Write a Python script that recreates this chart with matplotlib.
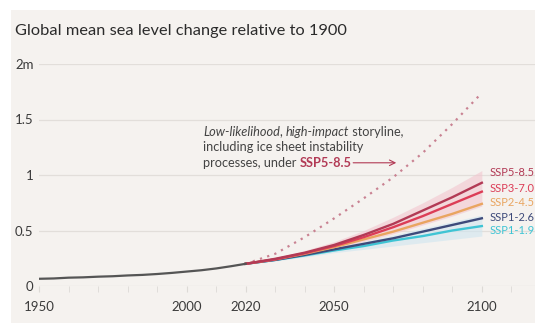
import numpy as np
import matplotlib
matplotlib.use("Agg")
import matplotlib.pyplot as plt
from matplotlib.patches import Rectangle

plt.rcParams['font.family'] = ['Lato', 'DejaVu Sans']

# observed record
hist_years = [1950, 1955, 1960, 1965, 1970, 1975, 1980, 1985, 1990, 1995, 2000, 2005, 2010, 2015, 2020]
hist_vals = [0.065, 0.068, 0.075, 0.078, 0.084, 0.088, 0.095, 0.100, 0.108, 0.118, 0.130, 0.142, 0.158, 0.178, 0.200]

# projections
proj_years = [2020, 2030, 2040, 2050, 2060, 2070, 2080, 2090, 2100]
scenarios = ["SSP5-8.5", "SSP3-7.0", "SSP2-4.5", "SSP1-2.6", "SSP1-1.9"]
ssp585 = [0.20, 0.245, 0.30, 0.37, 0.46, 0.56, 0.68, 0.80, 0.93]
ssp370 = [0.20, 0.24, 0.295, 0.36, 0.44, 0.53, 0.63, 0.74, 0.85]
ssp245 = [0.20, 0.24, 0.29, 0.35, 0.42, 0.49, 0.57, 0.65, 0.74]
ssp126 = [0.20, 0.235, 0.28, 0.33, 0.38, 0.43, 0.49, 0.55, 0.61]
ssp119 = [0.20, 0.235, 0.275, 0.32, 0.36, 0.41, 0.45, 0.50, 0.54]
ssp585_lo = [0.20, 0.235, 0.28, 0.33, 0.40, 0.47, 0.55, 0.63, 0.72]
ssp585_hi = [0.20, 0.255, 0.32, 0.40, 0.50, 0.62, 0.75, 0.89, 1.04]
ssp119_lo = [0.20, 0.225, 0.26, 0.30, 0.33, 0.36, 0.39, 0.42, 0.45]
ssp119_hi = [0.20, 0.245, 0.29, 0.34, 0.40, 0.46, 0.52, 0.58, 0.64]
storyline = [0.20, 0.29, 0.44, 0.61, 0.79, 0.98, 1.20, 1.46, 1.74]

colors = {"SSP5-8.5": "#b23a55", "SSP3-7.0": "#dc3d57", "SSP2-4.5": "#e9a560",
          "SSP1-2.6": "#3d4a7a", "SSP1-1.9": "#3fc4d4"}
label_y = [1.02, 0.88, 0.75, 0.62, 0.50]

bg = "#f5f2ef"
fig = plt.figure(figsize=(5.37, 3.23), dpi=100, facecolor="white")
fig.patches.append(Rectangle((11 / 537, 0), 524 / 537, 313 / 323, transform=fig.transFigure,
                             facecolor=bg, edgecolor="none", zorder=-5))

ax = fig.add_axes([39 / 537, 37 / 323, 496 / 537, 222 / 323])
ax.set_facecolor("none")
ax.set_xlim(1950, 2118)
ax.set_ylim(0, 2)
for s in ax.spines.values():
    s.set_visible(False)

ax.set_yticks([0, 0.5, 1, 1.5, 2])
ax.set_yticklabels(["0", "0.5", "1", "1.5", "2m"])
ax.set_xticks([1950, 2000, 2020, 2050, 2100])
ax.set_xticklabels(["1950", "2000", "2020", "2050", "2100"])
ax.set_xticks(np.arange(1950, 2120, 10), minor=True)
ax.tick_params(axis="y", length=0, pad=4, labelsize=9.5, labelcolor="#3a3a3a")
ax.tick_params(axis="x", which="both", length=4, color="#dddad6", pad=7,
               labelsize=9.5, labelcolor="#3a3a3a")
ax.grid(axis="y", color="#e2deda", lw=0.9)
ax.set_axisbelow(True)

ax.fill_between(proj_years, ssp585_lo, ssp585_hi, color="#f2c6cf", alpha=0.6, lw=0)
ax.fill_between(proj_years, ssp119_lo, ssp119_hi, color="#cfe6f0", alpha=0.6, lw=0)

ax.plot(proj_years, storyline, ls=(0, (1, 2.4)), color="#c98292", lw=1.6)
series = [ssp585, ssp370, ssp245, ssp126, ssp119]
for name, vals in zip(scenarios[::-1], series[::-1]):
    ax.plot(proj_years, vals, color=colors[name], lw=1.7)
ax.plot(hist_years, hist_vals, color="#555555", lw=1.6)

for name, yl in zip(scenarios, label_y):
    ax.text(2102.5, yl, name, color=colors[name], fontsize=8, va="center", ha="left")

# storyline annotation
fs = 9.2
t = ax.text(2005.6, 1.39, "Low-likelihood", style="italic", fontsize=fs, color="#444444", va="center")
t = ax.annotate(", ", xy=(1, 0), xycoords=t, va="bottom", fontsize=fs, color="#444444")
t = ax.annotate("high-impact", xy=(1, 0), xycoords=t, va="bottom", style="italic", fontsize=fs, color="#444444")
t = ax.annotate(" storyline,", xy=(1, 0), xycoords=t, va="bottom", fontsize=fs, color="#444444")
ax.text(2005.6, 1.25, "including ice sheet instability", fontsize=fs, color="#444444", va="center")
t = ax.text(2005.6, 1.11, "processes, under ", fontsize=fs, color="#444444", va="center")
t = ax.annotate("SSP5-8.5", xy=(1, 0), xycoords=t, va="bottom", fontsize=fs,
                fontweight="bold", color="#b23a55")
ax.annotate("", xy=(2071, 1.11), xytext=(1, 0.5), textcoords=t,
            arrowprops=dict(arrowstyle="->", color="#b23a55", lw=0.8, shrinkA=1, shrinkB=0))

fig.text(15 / 537, 1 - 31 / 323, "Global mean sea level change relative to 1900",
         fontsize=11.8, color="#2b2b2b", va="center", ha="left")

fig.savefig("out.png", dpi=100, facecolor="white")
